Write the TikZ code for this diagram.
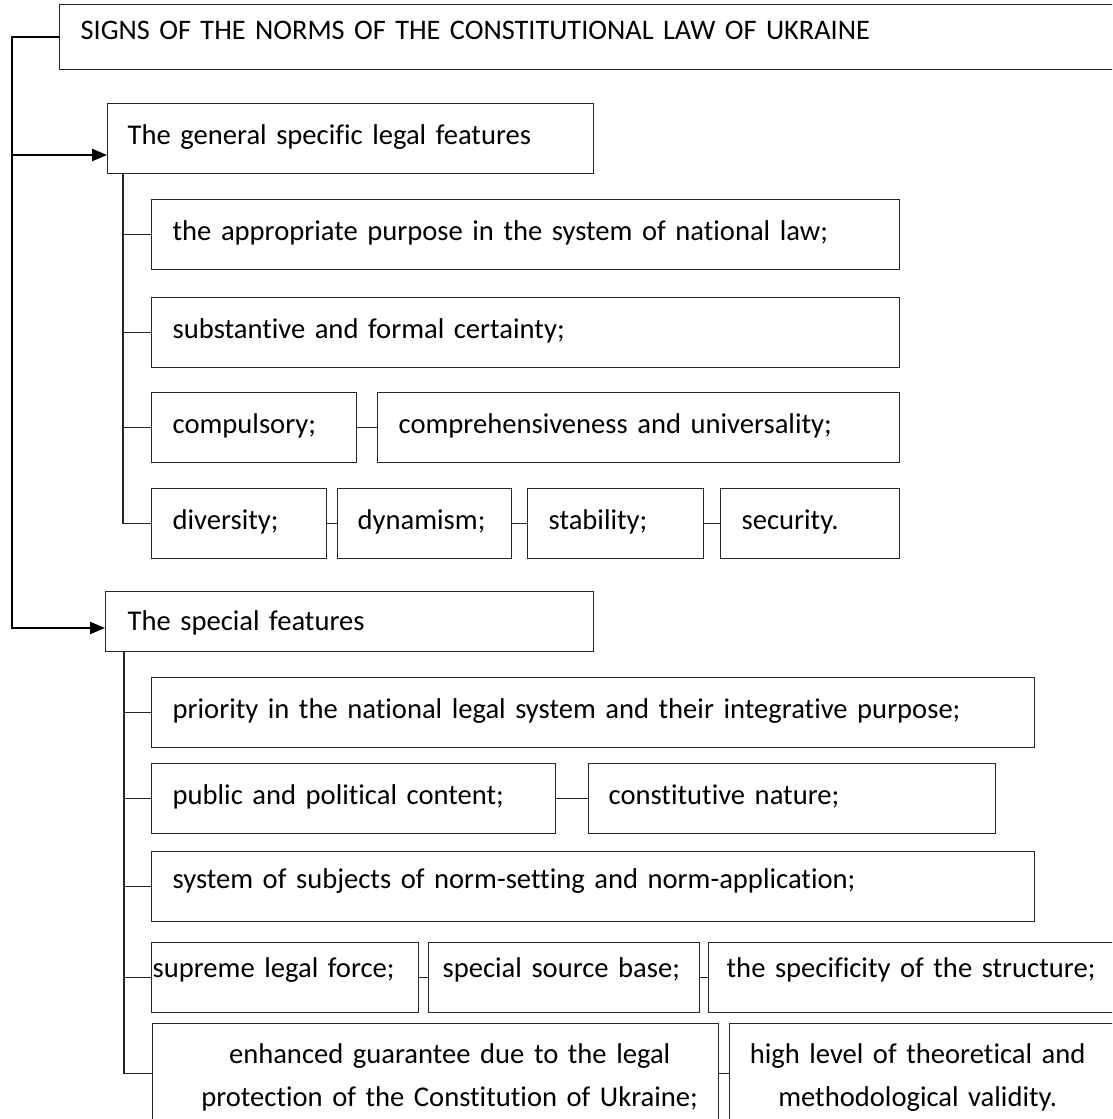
\documentclass[tikz,border=0pt]{standalone}
\usepackage{fontspec}
\setmainfont{Carlito}[Ligatures={NoCommon}]
\usetikzlibrary{arrows.meta,calc}
\newcommand\bodyfs{\fontsize{28.6pt}{43pt}\selectfont\hyphenpenalty=10000\exhyphenpenalty=10000}
\newcommand\titlefs{\fontsize{28.3pt}{43pt}\selectfont}
\begin{document}
\begin{tikzpicture}[x=1pt,y=-1pt,
  box/.style={draw=black!85, line width=1.3pt, anchor=north west, inner ysep=0pt, align=left, font=\bodyfs},
  row/.style={box, text height=41pt, text depth=29pt},
  bus/.style={draw=black, line width=2.6pt},
  arr/.style={bus, -{Triangle[length=15pt,width=12pt]}},
  link/.style={draw=black!85, line width=1.3pt},
]
\fill[white] (0,0) rectangle (1112,1119);
\clip (0,0) rectangle (1112,1119);

% headings
\node[box, font=\titlefs, inner xsep=21pt, text width=1049pt, text height=35pt, text depth=30pt] (title) at (59,4) {SIGNS OF THE NORMS OF THE CONSTITUTIONAL LAW OF UKRAINE};
\node[row, inner xsep=20pt, text width=446pt] (gen) at (107,103) {The general specific legal features};
\node[box, inner xsep=22pt, text width=444pt, text height=39pt, text depth=21pt] (spec) at (105,591) {The special features};

% general features
\node[row, inner xsep=21pt, text width=706pt] (g1) at (151,199) {the appropriate purpose in the system of national law;};
\node[row, inner xsep=21pt, text width=706pt] (g2) at (151,297) {substantive and formal certainty;};
\node[row, inner xsep=21pt, text width=163pt] (g3a) at (151,392) {compulsory;};
\node[row, inner xsep=21pt, text width=480pt] (g3b) at (377,392) {comprehensiveness and universality;};
\node[row, inner xsep=21pt, text width=133pt] (g4a) at (151,488) {diversity;};
\node[row, inner xsep=20pt, text width=134pt] (g4b) at (337,488) {dynamism;};
\node[row, inner xsep=21pt, text width=134pt] (g4c) at (527,488) {stability;};
\node[row, inner xsep=21pt, text width=137pt] (g4d) at (720,488) {security.};

% special features
\node[row, inner xsep=21pt, text width=841pt] (s1) at (151,677) {priority in the national legal system and their integrative purpose;};
\node[row, inner xsep=21pt, text width=362pt] (s2a) at (151,763) {public and political content;};
\node[row, inner xsep=20pt, text width=367pt] (s2b) at (588,763) {constitutive nature;};
\node[row, inner xsep=21pt, text width=841pt, text height=37pt, text depth=33pt] (s3) at (151,851) {system of subjects of norm-setting and norm-application;};
\node[row, inner xsep=1pt, text width=265pt, text height=35pt, text depth=35pt] (s4a) at (151,942) {supreme legal force;};
\node[row, inner xsep=14pt, text width=243pt, text height=35pt, text depth=35pt] (s4b) at (428,942) {special source base;};
\node[row, inner xsep=18pt, text width=406pt, text height=35pt, text depth=35pt] (s4c) at (708,942) {the specificity of the structure;};
\node[box, align=center, inner xsep=0pt, text width=566pt, text height=40pt, text depth=60pt] (s5a) at (152,1023)
  {\hspace*{28pt}enhanced guarantee due to the legal\\\hspace*{28pt}protection of the Constitution of Ukraine;};
\node[box, align=center, inner xsep=0pt, text width=420pt, text height=40pt, text depth=60pt] (s5b) at (729,1023)
  {\hspace*{-44pt}high level of theoretical and\\\hspace*{-44pt}methodological validity.};

% main bus with arrows
\coordinate (mb1) at (12,155);
\coordinate (mb2) at (12,628);
\draw[arr] (title.west) -| (mb2) -- (mb2 -| spec.west);
\draw[arr] (mb1) -- (mb1 -| gen.west);

% general bus
\coordinate (gb) at ($(gen.south west)+(16,0)$);
\draw[link] (gb) |- (g4a.west);
\foreach \n in {g1,g2,g3a} \draw[link] (gb |- \n.west) -- (\n.west);
\draw[link] (g3a.east) -- (g3b.west);
\draw[link] (g4a.east) -- (g4b.west);
\draw[link] (g4b.east) -- (g4c.west);
\draw[link] (g4c.east) -- (g4d.west);

% special bus
\coordinate (sb) at ($(spec.south west)+(19,0)$);
\draw[link] (sb) |- (s5a.west);
\foreach \n in {s1,s2a,s3,s4a} \draw[link] (sb |- \n.west) -- (\n.west);
\draw[link] (s2a.east) -- (s2b.west);
\draw[link] (s4a.east) -- (s4b.west);
\draw[link] (s4b.east) -- (s4c.west);
\draw[link] (s5a.east) -- (s5b.west);
\end{tikzpicture}
\end{document}
